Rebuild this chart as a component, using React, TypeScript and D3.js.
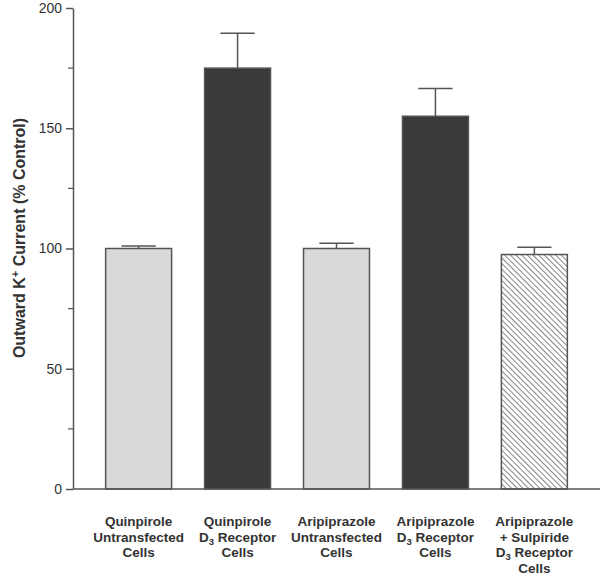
import * as d3 from "d3";
import { useEffect, useRef } from "react";

// label lines per bar; "D3" written as D_3 -> subscript
const categories = [
  ["Quinpirole", "Untransfected", "Cells"],
  ["Quinpirole", "D_3 Receptor", "Cells"],
  ["Aripiprazole", "Untransfected", "Cells"],
  ["Aripiprazole", "D_3 Receptor", "Cells"],
  ["Aripiprazole", "+ Sulpiride", "D_3 Receptor", "Cells"],
];
const means = [100, 175, 100, 155, 97.5];
const sems = [1, 14.5, 2.2, 11.5, 3];
const kinds = ["light", "dark", "light", "dark", "hatch"];
const majorTicks = [0, 50, 100, 150, 200];
const minorTicks = [25, 75, 125, 175];

export default function App() {
  const ref = useRef<SVGSVGElement>(null);

  useEffect(() => {
    if (!ref.current) return;
    const svg = d3.select(ref.current);
    svg.selectAll("*").remove();

    const W = 600, H = 575;
    const left = 73, right = 600, top = 8, bottom = 489;
    const axisColor = "#555";
    const font = "Arial, 'Liberation Sans', Helvetica, sans-serif";

    const x = d3
      .scaleBand()
      .domain(categories.map((_, i) => String(i)))
      .range([left, right])
      .paddingInner(1 / 3)
      .paddingOuter(0.33);
    const y = d3.scaleLinear().domain([0, 200]).range([bottom, top]);

    const defs = svg.append("defs");
    const pat = defs
      .append("pattern")
      .attr("id", "hatch")
      .attr("patternUnits", "userSpaceOnUse")
      .attr("width", 4)
      .attr("height", 4)
      .attr("patternTransform", "rotate(-45)");
    pat.append("rect").attr("width", 4).attr("height", 4).attr("fill", "#fff");
    pat
      .append("line")
      .attr("x1", 0)
      .attr("y1", 0)
      .attr("x2", 0)
      .attr("y2", 4)
      .attr("stroke", "#666")
      .attr("stroke-width", 1.6);

    const fillFor = (k: string) => (k === "light" ? "#d9d9d9" : k === "dark" ? "#3a3a3a" : "url(#hatch)");

    const g = svg.append("g");

    // error bars (upper only)
    const bw = x.bandwidth();
    means.forEach((m, i) => {
      const cx = x(String(i))! + bw / 2;
      g.append("line")
        .attr("x1", cx)
        .attr("x2", cx)
        .attr("y1", y(m))
        .attr("y2", y(m + sems[i]))
        .attr("stroke", axisColor)
        .attr("stroke-width", 1.5);
      g.append("line")
        .attr("x1", cx - bw * 0.26)
        .attr("x2", cx + bw * 0.26)
        .attr("y1", y(m + sems[i]))
        .attr("y2", y(m + sems[i]))
        .attr("stroke", axisColor)
        .attr("stroke-width", 1.5);
    });

    g.selectAll(".bar")
      .data(means)
      .join("rect")
      .attr("x", (_, i) => x(String(i))!)
      .attr("y", d => y(d))
      .attr("width", bw)
      .attr("height", d => bottom - y(d))
      .attr("fill", (_, i) => fillFor(kinds[i]))
      .attr("stroke", axisColor)
      .attr("stroke-width", 1.5);

    // axes
    const yAxis = svg
      .append("g")
      .attr("transform", `translate(${left},0)`)
      .call(d3.axisLeft(y).tickValues(majorTicks).tickSize(7).tickPadding(4).tickSizeOuter(0));
    yAxis.select(".domain").attr("stroke", axisColor).attr("stroke-width", 1.5);
    yAxis.selectAll(".tick line").attr("stroke", axisColor).attr("stroke-width", 1.5);
    yAxis
      .selectAll(".tick text")
      .attr("font-family", font)
      .attr("font-size", 14)
      .attr("fill", "#333");
    yAxis
      .selectAll(".minor")
      .data(minorTicks)
      .join("line")
      .attr("x1", 0)
      .attr("x2", -5)
      .attr("y1", d => y(d))
      .attr("y2", d => y(d))
      .attr("stroke", axisColor)
      .attr("stroke-width", 1.2);

    svg
      .append("line")
      .attr("x1", left)
      .attr("x2", right)
      .attr("y1", bottom)
      .attr("y2", bottom)
      .attr("stroke", axisColor)
      .attr("stroke-width", 1.5);

    // y title
    const title = svg
      .append("text")
      .attr("transform", `translate(25,238) rotate(-90)`)
      .attr("text-anchor", "middle")
      .attr("font-family", font)
      .attr("font-size", 16)
      .attr("font-weight", "bold")
      .attr("fill", "#333");
    title.append("tspan").text("Outward K");
    title.append("tspan").attr("baseline-shift", "super").attr("font-size", 11).text("+");
    title.append("tspan").text(" Current (% Control)");

    // category labels
    categories.forEach((lines, i) => {
      const cx = x(String(i))! + bw / 2;
      const t = svg
        .append("text")
        .attr("text-anchor", "middle")
        .attr("font-family", font)
        .attr("font-size", 13.5)
        .attr("font-weight", "bold")
        .attr("fill", "#333");
      lines.forEach((line, j) => {
        const yy = 526 + j * 15.5;
        if (line.startsWith("D_3")) {
          const rest = line.slice(3);
          t.append("tspan").attr("x", cx).attr("y", yy).text("D");
          t.append("tspan").attr("dy", 3).attr("font-size", 9.5).text("3");
          t.append("tspan").attr("dy", -3).text(rest);
        } else {
          t.append("tspan").attr("x", cx).attr("y", yy).text(line);
        }
      });
    });

    svg.attr("width", W).attr("height", H);
  }, []);

  return (
    <svg
      ref={ref}
      width={600}
      height={575}
      style={{ position: "absolute", left: 0, top: 0, background: "#fff", display: "block" }}
    />
  );
}
